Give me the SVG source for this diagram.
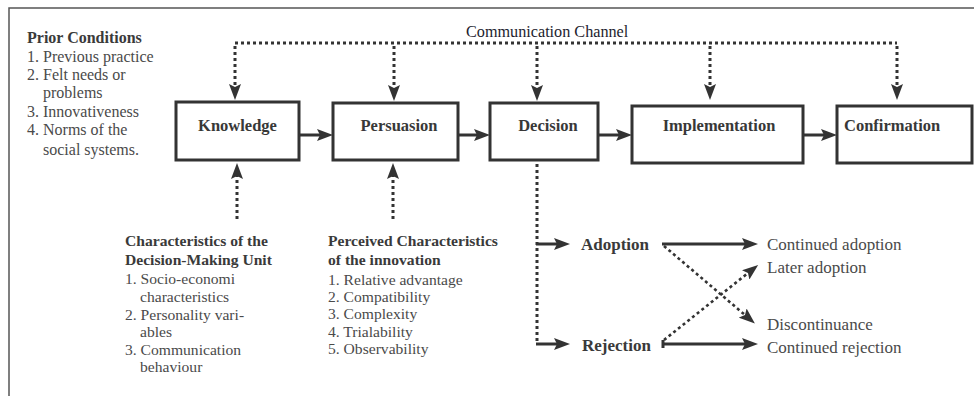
<svg xmlns="http://www.w3.org/2000/svg" width="974" height="396" viewBox="0 0 974 396" font-family="'Liberation Serif', 'Times New Roman', 'DejaVu Serif', serif">
<style>
.box{fill:#fff;stroke:#333;stroke-width:3;}
.lbl{font-size:16.5px;font-weight:bold;fill:#383838;text-anchor:middle;}
.lbls{font-size:16.5px;font-weight:bold;fill:#383838;text-anchor:start;}
.hdr{font-weight:bold;fill:#3a3a3a;}
.txt{fill:#4a4a4a;}
.solid{fill:none;stroke:#333;stroke-width:3;}
.dot{fill:none;stroke:#333;stroke-width:3;stroke-dasharray:3 3;}
.dotd{fill:none;stroke:#333;stroke-width:2.6;stroke-dasharray:3 3;}
.frame{fill:none;stroke:#555;stroke-width:1.5;}
</style>
<defs>
<marker id="ah" viewBox="0 0 16 12" refX="3" refY="6" markerWidth="16" markerHeight="12" orient="auto" markerUnits="userSpaceOnUse">
<path d="M0,0 L16,6 L0,12 L3,6 Z" fill="#333"/>
</marker>
</defs>
<rect width="974" height="396" fill="#fff"/>
<path class="frame" d="M9,396 L9,8 L974,8"/>

<g id="prior-conditions" font-size="16">
<text class="hdr" x="27" y="43">Prior Conditions</text>
<text class="txt" x="27" y="61.7">1. Previous practice</text>
<text class="txt" x="27" y="79.5">2. Felt needs or</text>
<text class="txt" x="43" y="97.5">problems</text>
<text class="txt" x="27" y="116.5">3. Innovativeness</text>
<text class="txt" x="27" y="135">4. Norms of the</text>
<text class="txt" x="43" y="154.5">social systems.</text>
</g>

<g id="communication-channel">
<text x="466" y="36.5" font-size="16.2" fill="#1d1d2e">Communication Channel</text>
</g>

<g id="knowledge">
<rect class="box" x="176" y="102" width="123" height="58"/>
<text class="lbl" x="237.5" y="131">Knowledge</text>
</g>
<g id="persuasion">
<rect class="box" x="333" y="103" width="125" height="57"/>
<text class="lbl" x="399" y="131">Persuasion</text>
</g>
<g id="decision">
<rect class="box" x="490" y="103" width="108" height="57"/>
<text class="lbl" x="548" y="131">Decision</text>
</g>
<g id="implementation">
<rect class="box" x="632" y="106" width="171" height="57"/>
<text class="lbl" x="719" y="131">Implementation</text>
</g>
<g id="confirmation">
<rect class="box" x="837" y="106" width="135" height="57"/>
<text class="lbls" x="844" y="131">Confirmation</text>
</g>

<g id="decision-making-unit" font-size="15.6">
<text class="hdr" x="125" y="246">Characteristics of the</text>
<text class="hdr" x="125" y="265">Decision-Making Unit</text>
<text class="txt" x="125" y="284">1. Socio-economi</text>
<text class="txt" x="140" y="301.7">characteristics</text>
<text class="txt" x="125" y="320">2. Personality vari-</text>
<text class="txt" x="140" y="337">ables</text>
<text class="txt" x="125" y="354.5">3. Communication</text>
<text class="txt" x="140" y="372">behaviour</text>
</g>

<g id="perceived-characteristics" font-size="15.6">
<text class="hdr" x="328" y="246">Perceived Characteristics</text>
<text class="hdr" x="328" y="265">of the innovation</text>
<text class="txt" x="328" y="284.5">1. Relative advantage</text>
<text class="txt" x="328" y="301.7">2. Compatibility</text>
<text class="txt" x="328" y="319">3. Complexity</text>
<text class="txt" x="328" y="336.7">4. Trialability</text>
<text class="txt" x="328" y="354">5. Observability</text>
</g>

<g id="adoption">
<text class="hdr" x="581" y="250" font-size="17">Adoption</text>
</g>
<g id="rejection">
<text class="hdr" x="582" y="350.5" font-size="17">Rejection</text>
</g>

<g id="outcomes" font-size="17">
<text class="txt" x="767" y="250">Continued adoption</text>
<text class="txt" x="767" y="272.5">Later adoption</text>
<text class="txt" x="767" y="330">Discontinuance</text>
<text class="txt" x="767" y="353">Continued rejection</text>
</g>

<g id="connectors">
<path class="dot" d="M235,43 L897,43"/>
<path class="dot" d="M235,46 L235,87" marker-end="url(#ah)"/>
<path class="dot" d="M394,46 L394,88" marker-end="url(#ah)"/>
<path class="dot" d="M537,46 L537,88" marker-end="url(#ah)"/>
<path class="dot" d="M710,46 L710,87" marker-end="url(#ah)"/>
<path class="dot" d="M897,46 L897,87" marker-end="url(#ah)"/>

<path class="solid" d="M299,135 L320,135" marker-end="url(#ah)"/>
<path class="solid" d="M458,135 L477,135" marker-end="url(#ah)"/>
<path class="solid" d="M598,135 L619,135" marker-end="url(#ah)"/>
<path class="solid" d="M803,135 L824,135" marker-end="url(#ah)"/>

<path class="dot" d="M237,219 L237,176" marker-end="url(#ah)"/>
<path class="dot" d="M393,219 L393,176" marker-end="url(#ah)"/>

<path class="dot" d="M537,164 L537,344"/>
<path class="solid" d="M536,244 L557,244" marker-end="url(#ah)"/>
<path class="solid" d="M536,344 L557,344" marker-end="url(#ah)"/>

<path class="solid" d="M662,244 L745,244" marker-end="url(#ah)"/>
<path class="solid" d="M662,344 L745,344" marker-end="url(#ah)"/>
<path class="solid" d="M663,340 L663,348" stroke-width="2"/>
<path class="dotd" d="M664,246 L745,315" marker-end="url(#ah)"/>
<path class="dotd" d="M664,340 L748,273" marker-end="url(#ah)"/>
</g>
</svg>
